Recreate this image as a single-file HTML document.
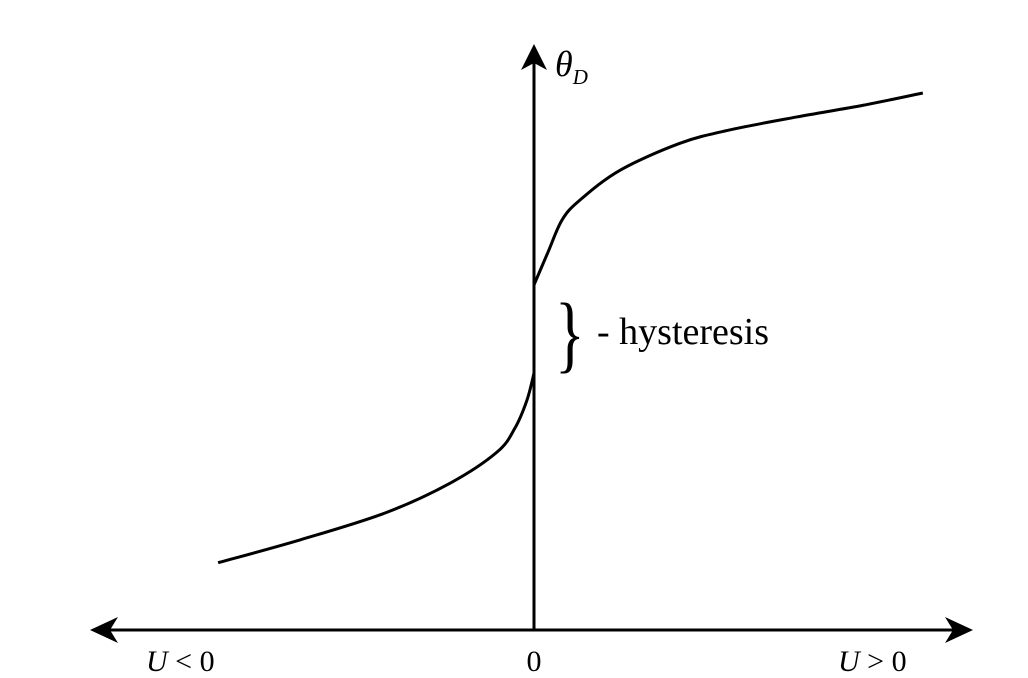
<!DOCTYPE html>
<html><head><meta charset="utf-8"><style>
html,body{margin:0;padding:0;background:#fff;}
svg{display:block;}
text{font-family:"Liberation Serif",serif;fill:#000;}
</style></head><body>
<svg width="1028" height="678" viewBox="0 0 1028 678">
<g id="axes"></g>
<g id="curves"></g>
<g>
<text x="555" y="362" font-size="86" transform="translate(555,362) scale(0.72,1) translate(-555,-362)">}</text>
<text x="597" y="344" font-size="38">- hysteresis</text>
</g>
<text x="555" y="76" font-size="36" font-style="italic">θ<tspan font-size="21" dy="8">D</tspan></text>
<text x="146" y="671" font-size="30"><tspan font-style="italic">U</tspan> &lt; 0</text>
<text x="534" y="671" font-size="30" text-anchor="middle">0</text>
<text x="838" y="671" font-size="30"><tspan font-style="italic">U</tspan> &gt; 0</text>
</svg>
<script>
const leftU = [-8.1,-6.0,-3.82,-2.15,-0.95,-0.49,-0.18,0];
const leftTheta = [1.15,1.54,2.0,2.51,3.04,3.45,3.93,4.39];
const rightU = [0,0.36,0.72,1.18,2.21,3.74,5.03,6.74,8.44,9.97];
const rightTheta = [5.9,6.46,7.01,7.35,7.86,8.32,8.55,8.77,8.97,9.18];
const x0=534, y0=630, ux=39, uy=58.5;
function xS(u){return x0+u*ux;}
function yS(t){return y0-t*uy;}
const NS='http://www.w3.org/2000/svg';
function path(us,ts){
  const p=us.map((u,i)=>[xS(u),yS(ts[i])]);
  let d='M'+p[0][0]+','+p[0][1];
  for(let i=0;i<p.length-1;i++){
    const a=p[Math.max(i-1,0)],b=p[i],c=p[i+1],e=p[Math.min(i+2,p.length-1)];
    const c1=[b[0]+(c[0]-a[0])/6,b[1]+(c[1]-a[1])/6];
    const c2=[c[0]-(e[0]-b[0])/6,c[1]-(e[1]-b[1])/6];
    d+=' C'+c1+' '+c2+' '+c;
  }
  return d;
}
const cg=document.getElementById('curves');
[[leftU,leftTheta,'curve-left-branch'],[rightU,rightTheta,'curve-right-branch']].forEach(s=>{
  const el=document.createElementNS(NS,'path');
  el.setAttribute('d',path(s[0],s[1]));
  el.setAttribute('fill','none');el.setAttribute('stroke','#000');el.setAttribute('stroke-width','3');
  
  
  cg.appendChild(el);
});
const ag=document.getElementById('axes');
function add(tag,attrs,name){
  const el=document.createElementNS(NS,tag);
  for(const k in attrs)el.setAttribute(k,attrs[k]);
  
  
  ag.appendChild(el);
}
add('line',{x1:105,y1:630,x2:958,y2:630,stroke:'#000','stroke-width':3},'x-axis');
add('polygon',{points:'90,630 118,617 110,630 118,643',fill:'#000'},'x-axis-arrow-left');
add('polygon',{points:'973,630 945,617 953,630 945,643',fill:'#000'},'x-axis-arrow-right');
add('line',{x1:534,y1:630,x2:534,y2:58,stroke:'#000','stroke-width':3},'y-axis');
add('polygon',{points:'534,44 521,70 534,63 547,70',fill:'#000'},'y-axis-arrow');
</script>
</body></html>
